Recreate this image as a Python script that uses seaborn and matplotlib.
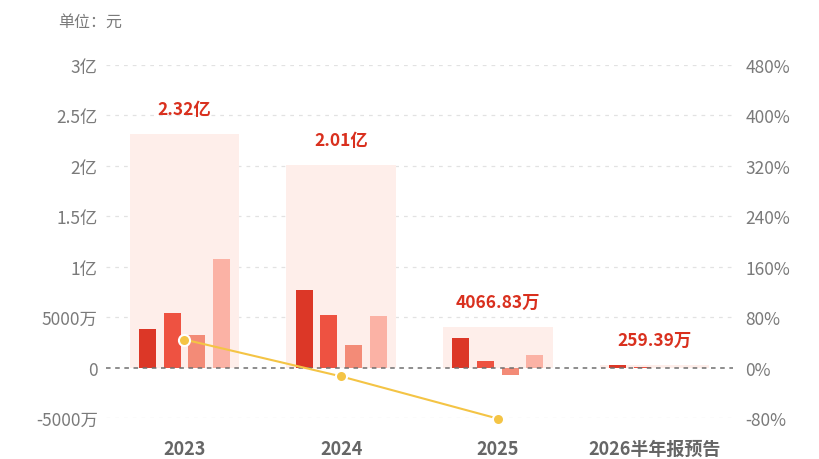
import numpy as np
import pandas as pd
import matplotlib
matplotlib.use("Agg")
import matplotlib.pyplot as plt
import seaborn as sns

# ---------------- data ----------------
categories = ["2023", "2024", "2025", "2026半年报预告"]
series_names = ["s1", "s2", "s3", "s4"]
# component values in 万元
s1 = [3870, 7700, 2950, 230]
s2 = [5460, 5200, 650, 20]
s3 = [3200, 2200, -750, 5]
s4 = [10800, 5100, 1200, 4.39]
totals = [23200, 20100, 4066.83, 259.39]
total_labels = ["2.32亿", "2.01亿", "4066.83万", "259.39万"]
growth_cats = ["2023", "2024", "2025"]
growth = [44.5, -14.0, -81.0]  # %
left_ticks = [-5000, 0, 5000, 10000, 15000, 20000, 25000, 30000]
left_labels = ["-5000万", "0", "5000万", "1亿", "1.5亿", "2亿", "2.5亿", "3亿"]
right_ticks = [-80, 0, 80, 160, 240, 320, 400, 480]
right_labels = ["-80%", "0%", "80%", "160%", "240%", "320%", "400%", "480%"]
unit_text = "单位：元"

# ---------------- style ----------------
sns.set_theme(style="white")
plt.rcParams["font.family"] = ["Noto Sans CJK SC", "DejaVu Sans"]

bar_colors = ["#dc3727", "#ee5241", "#f38b77", "#fbb2a5"]
band_color = "#feeeea"
line_color = "#f4c445"
text_gray = "#7a7a7a"
label_red = "#d9301e"

fig = plt.figure(figsize=(8.2, 4.6), dpi=100)
ax = fig.add_axes([106 / 820, 41 / 460, 627 / 820, 353 / 460])

# background bands (totals)
band_df = pd.DataFrame({"cat": categories, "total": totals})
sns.barplot(data=band_df, x="cat", y="total", order=categories, color=band_color,
            width=0.70, saturation=1, ax=ax, zorder=1)

# component bars
rows = []
for name, vals in zip(series_names, [s1, s2, s3, s4]):
    for c, v in zip(categories, vals):
        rows.append({"cat": c, "series": name, "value": v})
bars_df = pd.DataFrame(rows)
sns.barplot(data=bars_df, x="cat", y="value", hue="series", order=categories,
            hue_order=series_names, palette=bar_colors, width=0.628, gap=0.31,
            saturation=1, ax=ax, legend=False, zorder=3)

for p in ax.patches:
    p.set_edgecolor("none")
    p.set_linewidth(0)

ax.set_xlim(-0.5, len(categories) - 0.5)
ax.set_ylim(-5000, 30000)
ax.set_yticks(left_ticks)
ax.set_yticklabels(left_labels)
ax.set_xlabel("")
ax.set_ylabel("")
ax.tick_params(axis="y", length=0, pad=6, labelsize=12.5, labelcolor=text_gray)
ax.tick_params(axis="x", length=0, pad=15, labelsize=13, labelcolor="#666666")
for lab in ax.get_xticklabels():
    lab.set_fontweight("bold")
for s in ax.spines.values():
    s.set_visible(False)

# gridlines
for t in left_ticks:
    if t == 0:
        ax.axhline(t, color="#6f6f6f", lw=1.1, ls=(0, (3, 3)), zorder=4)
    else:
        ax.axhline(t, color="#e2e2e2", lw=0.9, ls=(0, (3, 4)), zorder=0)

# total labels
for i, (t, lab) in enumerate(zip(totals, total_labels)):
    ax.annotate(lab, xy=(i, t), xytext=(0, 18), textcoords="offset points",
                ha="center", va="center", color=label_red, fontsize=12.5,
                fontweight="bold", zorder=6)

# growth line on right axis
ax2 = ax.twinx()
line_df = pd.DataFrame({"x": np.arange(len(growth_cats)), "g": growth})
sns.lineplot(data=line_df, x="x", y="g", color=line_color, lw=1.5, ax=ax2,
             marker="o", markersize=8, markeredgecolor="white",
             markeredgewidth=1.5, zorder=5, clip_on=False)
ax2.set_ylim(-80, 480)
ax2.set_xlim(-0.5, len(categories) - 0.5)
ax2.set_yticks(right_ticks)
ax2.set_yticklabels(right_labels)
ax2.set_ylabel("")
ax2.set_xlabel("")
ax2.tick_params(axis="y", length=0, pad=9, labelsize=12.5, labelcolor=text_gray)
for s in ax2.spines.values():
    s.set_visible(False)
for ln in ax2.get_lines():
    ln.set_clip_on(False)

fig.text(58 / 820, 1 - 22 / 460, unit_text, ha="left", va="center",
         color=text_gray, fontsize=11.5)

fig.savefig("out.png", dpi=100)
